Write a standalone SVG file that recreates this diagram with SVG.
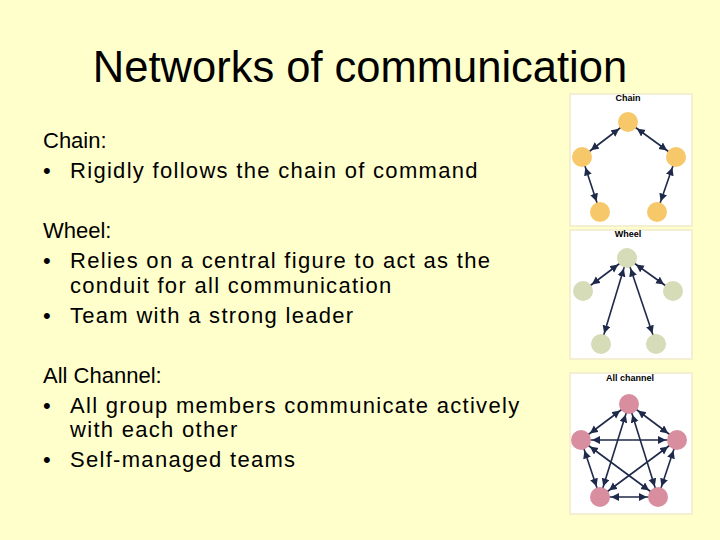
<svg xmlns="http://www.w3.org/2000/svg" width="720" height="540" viewBox="0 0 720 540">
<style>
.t{font-family:"Liberation Sans",Arial,sans-serif;font-size:22px;fill:#000}
.b{font-family:"Liberation Sans",Arial,sans-serif;font-size:22px;letter-spacing:1.3px;fill:#000}
.h{font-family:"Liberation Sans",Arial,sans-serif;font-size:9px;font-weight:bold;fill:#000}
.e{stroke:#1f2a4a;stroke-width:1.6;marker-start:url(#a);marker-end:url(#a)}
.panel{fill:#fff;stroke:#f4efd0;stroke-width:2}
.y{fill:#f7c86a}.g{fill:#d6dbb8}.p{fill:#d98ea0}
</style>
<defs>
<marker id="a" markerUnits="userSpaceOnUse" markerWidth="30" markerHeight="10" viewBox="0 0 30 10" refX="19" refY="4" orient="auto-start-reverse"><path d="M0,0 L8,4 L0,8 z" fill="#1f2a4a"/></marker>
</defs>
<rect width="720" height="540" fill="#ffffcc"/>
<text x="360" y="82" text-anchor="middle" font-family="Liberation Sans,Arial,sans-serif" font-size="43.5">Networks of communication</text>
<g id="text">
<text class="t" x="43" y="148">Chain:</text>
<text class="t" x="43" y="178">•</text><text class="b" x="70" y="178">Rigidly follows the chain of command</text>
<text class="t" x="43" y="238">Wheel:</text>
<text class="t" x="43" y="268">•</text><text class="b" x="70" y="268">Relies on a central figure to act as the</text>
<text class="b" x="70" y="293">conduit for all communication</text>
<text class="t" x="43" y="323">•</text><text class="b" x="70" y="323">Team with a strong leader</text>
<text class="t" x="43" y="383">All Channel:</text>
<text class="t" x="43" y="413">•</text><text class="b" x="70" y="413">All group members communicate actively</text>
<text class="b" x="70" y="437">with each other</text>
<text class="t" x="43" y="467">•</text><text class="b" x="70" y="467">Self-managed teams</text>
</g>
<rect class="panel" x="570" y="94" width="122" height="132"/>
<rect class="panel" x="570" y="230" width="122" height="129"/>
<rect class="panel" x="570" y="373" width="122" height="141"/>
<text class="h" x="628" y="101" text-anchor="middle">Chain</text>
<text class="h" x="628" y="237" text-anchor="middle">Wheel</text>
<text class="h" x="630" y="381" text-anchor="middle">All channel</text>
<g id="connectors">
<line class="e" x1="628" y1="122" x2="582" y2="157"/>
<line class="e" x1="628" y1="122" x2="676" y2="157"/>
<line class="e" x1="582" y1="157" x2="600" y2="212"/>
<line class="e" x1="676" y1="157" x2="657" y2="212"/>
<line class="e" x1="627" y1="258" x2="583" y2="291"/>
<line class="e" x1="627" y1="258" x2="673" y2="291"/>
<line class="e" x1="627" y1="258" x2="601" y2="344"/>
<line class="e" x1="627" y1="258" x2="656" y2="344"/>
<line class="e" x1="629" y1="404" x2="581" y2="440"/>
<line class="e" x1="629" y1="404" x2="677" y2="440"/>
<line class="e" x1="629" y1="404" x2="600" y2="497"/>
<line class="e" x1="629" y1="404" x2="658" y2="497"/>
<line class="e" x1="581" y1="440" x2="677" y2="440"/>
<line class="e" x1="581" y1="440" x2="600" y2="497"/>
<line class="e" x1="581" y1="440" x2="658" y2="497"/>
<line class="e" x1="677" y1="440" x2="600" y2="497"/>
<line class="e" x1="677" y1="440" x2="658" y2="497"/>
<line class="e" x1="600" y1="497" x2="658" y2="497"/>
</g>
<g id="chain-nodes" class="y">
<circle id="c1" cx="628" cy="122" r="10"/><circle id="c2" cx="582" cy="157" r="10"/><circle id="c3" cx="676" cy="157" r="10"/><circle id="c4" cx="600" cy="212" r="10"/><circle id="c5" cx="657" cy="212" r="10"/>
</g>
<g id="wheel-nodes" class="g">
<circle id="w1" cx="627" cy="258" r="10"/><circle id="w2" cx="583" cy="291" r="10"/><circle id="w3" cx="673" cy="291" r="10"/><circle id="w4" cx="601" cy="344" r="10"/><circle id="w5" cx="656" cy="344" r="10"/>
</g>
<g id="all-nodes" class="p">
<circle id="a1" cx="629" cy="404" r="10"/><circle id="a2" cx="581" cy="440" r="10"/><circle id="a3" cx="677" cy="440" r="10"/><circle id="a4" cx="600" cy="497" r="10"/><circle id="a5" cx="658" cy="497" r="10"/>
</g>
</svg>
